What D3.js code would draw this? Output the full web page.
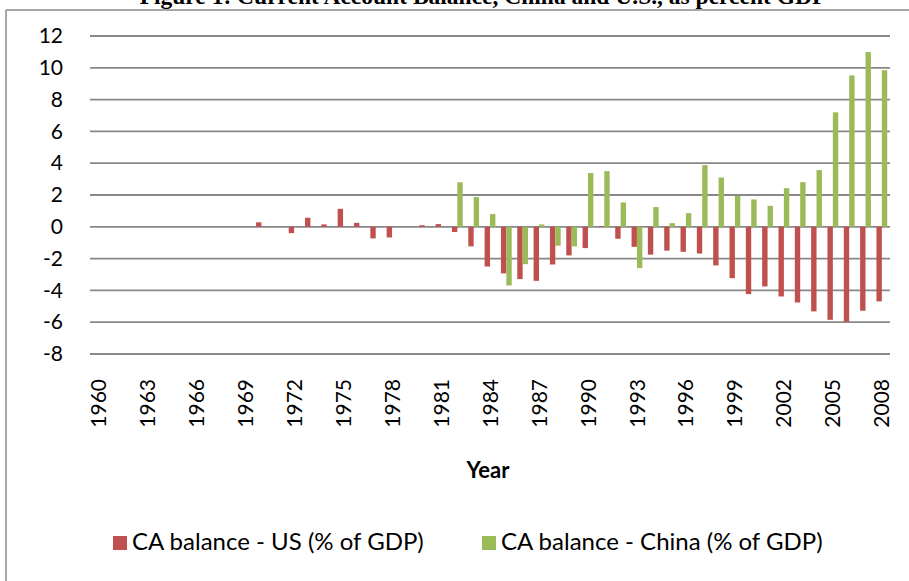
<!DOCTYPE html>
<html>
<head>
<meta charset="utf-8">
<script src="https://cdn.jsdelivr.net/npm/d3@7"></script>
<style>
  body { margin: 0; background: #fff; }
  svg { display: block; }
</style>
</head>
<body>
<svg id="chart" width="909" height="581"></svg>
<script>
// years on the x axis
var years = d3.range(1960, 2009);

// CA balance - US (% of GDP), null where no bar is drawn
var usValues = [
  null, null, null, null, null, null, null, null, null, null,   // 1960-1969
  0.28, 0, -0.4, 0.57, 0.15, 1.13, 0.25, -0.73, -0.67, 0,       // 1970-1979
  0.1, 0.17, -0.33, -1.23, -2.5, -2.93, -3.29, -3.4, -2.37, -1.8, // 1980-1989
  -1.34, 0.05, -0.75, -1.26, -1.75, -1.5, -1.57, -1.68, -2.43, -3.23, // 1990-1999
  -4.23, -3.75, -4.38, -4.76, -5.32, -5.85, -5.97, -5.28, -4.69  // 2000-2008
];

// CA balance - China (% of GDP)
var chinaValues = [
  null, null, null, null, null, null, null, null, null, null,
  null, null, null, null, null, null, null, null, null, null,
  null, null, 2.8, 1.87, 0.8, -3.69, -2.35, 0.15, -1.19, -1.23,
  3.38, 3.5, 1.53, -2.6, 1.24, 0.23, 0.86, 3.88, 3.1, 1.95,
  1.72, 1.32, 2.43, 2.81, 3.57, 7.2, 9.52, 10.99, 9.85
];

var yTicks = [-8, -6, -4, -2, 0, 2, 4, 6, 8, 10, 12];
var xTickYears = d3.range(1960, 2009, 3);

var seriesNames = ["CA balance - US (% of GDP)", "CA balance - China (% of GDP)"];
var seriesColors = ["#C0504D", "#9BBB59"];

var svg = d3.select("#chart");
var font = "Lato, 'Open Sans', sans-serif";

// outer frame (partly off the page)
svg.append("line").attr("x1", 6).attr("x2", 909).attr("y1", 10).attr("y2", 10)
  .attr("stroke", "#8a8a8a").attr("stroke-width", 1.5);
svg.append("line").attr("x1", 6).attr("x2", 6).attr("y1", 10).attr("y2", 581)
  .attr("stroke", "#8a8a8a").attr("stroke-width", 1.5);

// title, mostly cut off at the top like the scan
svg.append("text")
  .attr("x", 483).attr("y", 4)
  .attr("text-anchor", "middle")
  .attr("font-family", "'Liberation Serif', 'Times New Roman', serif")
  .attr("font-weight", "bold")
  .attr("font-size", "23.5px")
  .text("Figure 1: Current Account Balance, China and U.S., as percent GDP");

var plot = {left: 90, right: 890, top: 36, bottom: 354};

var x = d3.scaleBand()
  .domain(years)
  .range([plot.left, plot.right]);

var y = d3.scaleLinear()
  .domain([-8, 12])
  .range([plot.bottom, plot.top]);

// gridlines
svg.append("g").selectAll("line")
  .data(yTicks)
  .enter().append("line")
  .attr("x1", plot.left).attr("x2", plot.right)
  .attr("y1", function(d) { return y(d); })
  .attr("y2", function(d) { return y(d); })
  .attr("stroke", "#888")
  .attr("stroke-width", 1.8);

// y axis labels (plain hyphen for negatives)
var yAxis = d3.axisLeft(y).tickValues(yTicks).tickSize(0).tickPadding(0)
  .tickFormat(function(d) { return String(d); });
var gy = svg.append("g")
  .attr("transform", "translate(63,0)")
  .call(yAxis);
gy.select(".domain").remove();
gy.selectAll("text")
  .attr("font-family", font)
  .attr("font-size", "21px")
  .attr("fill", "#000");

// x axis labels, rotated
var xAxis = d3.axisBottom(x).tickValues(xTickYears).tickSize(0).tickPadding(0);
var gx = svg.append("g")
  .attr("transform", "translate(0,379)")
  .call(xAxis);
gx.select(".domain").remove();
gx.selectAll("text")
  .attr("font-family", font)
  .attr("font-size", "21px")
  .attr("fill", "#000")
  .attr("transform", "rotate(-90)")
  .attr("text-anchor", "end")
  .attr("x", 0)
  .attr("y", 0)
  .attr("dy", "0.36em");

// x title
svg.append("text")
  .attr("x", 488).attr("y", 478)
  .attr("text-anchor", "middle")
  .attr("font-family", font)
  .attr("font-weight", "bold")
  .attr("font-size", "22px")
  .text("Year");

// bars
var barW = x.bandwidth() * 0.33;
var series = [usValues, chinaValues];

series.forEach(function(vals, s) {
  var data = years.map(function(yr, i) { return {year: yr, v: vals[i]}; })
    .filter(function(d) { return d.v !== null; });
  svg.append("g").selectAll("rect")
    .data(data)
    .enter().append("rect")
    .attr("x", function(d) {
      var c = x(d.year) + x.bandwidth() / 2;
      return s === 0 ? c - barW : c;
    })
    .attr("y", function(d) { return y(Math.max(0, d.v)); })
    .attr("width", barW)
    .attr("height", function(d) { return Math.abs(y(d.v) - y(0)); })
    .attr("fill", seriesColors[s]);
});

// legend
var legendX = [113, 482];
seriesNames.forEach(function(name, i) {
  svg.append("rect")
    .attr("x", legendX[i]).attr("y", 536)
    .attr("width", 14).attr("height", 14)
    .attr("fill", seriesColors[i]);
  svg.append("text")
    .attr("x", legendX[i] + 19).attr("y", 550)
    .attr("font-family", font)
    .attr("font-size", "24px")
    .attr("fill", "#000")
    .text(name);
});
</script>
</body>
</html>
